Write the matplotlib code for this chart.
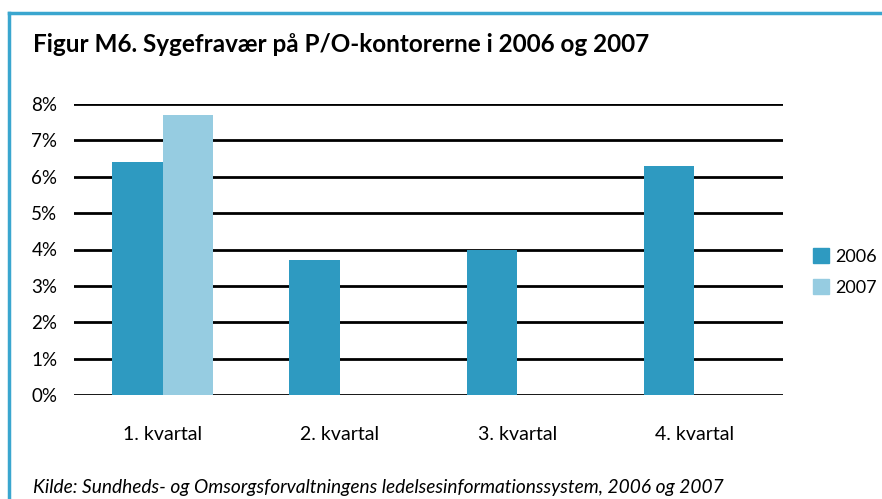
import matplotlib.pyplot as plt
import matplotlib.patches as mpatches
import numpy as np

plt.rcParams['font.family'] = ['Lato', 'DejaVu Sans']

categories = ["1. kvartal", "2. kvartal", "3. kvartal", "4. kvartal"]
series_names = ["2006", "2007"]
values_2006 = [6.4, 3.7, 4.0, 6.3]
values_2007 = [7.7, 0, 0, 0]
yticks = [0, 1, 2, 3, 4, 5, 6, 7, 8]
ytick_labels = ["0%", "1%", "2%", "3%", "4%", "5%", "6%", "7%", "8%"]

c2006 = "#2E9AC1"
c2007 = "#96CCE1"
border = "#3AA6CF"

W, H = 882, 499
fig = plt.figure(figsize=(W/100, H/100), dpi=100)

# frame lines
fig.add_artist(plt.Line2D([9/W, 9/W], [0, 1 - 13/H], color=border, lw=2.5))
fig.add_artist(plt.Line2D([9/W, 1], [1 - 13/H, 1 - 13/H], color=border, lw=2.5))

ax = fig.add_axes([74/W, 1 - 395/H, (783-74)/W, (395-104)/H])
x = np.arange(len(categories))
bw = 0.285
ax.bar(x - bw/2, values_2006, bw, color=c2006, zorder=3, label=series_names[0])
ax.bar(x + bw/2, values_2007, bw, color=c2007, zorder=3, label=series_names[1])
ax.set_xlim(-0.5, len(categories) - 0.5)
ax.set_ylim(0, 8)
ax.set_yticks(yticks)
ax.set_yticklabels(ytick_labels, fontsize=13.5)
for t in yticks:
    ax.axhline(t, color="black", lw=2, zorder=1)
ax.set_xticks(x)
ax.set_xticklabels(categories, fontsize=14)
ax.tick_params(length=0)
ax.tick_params(axis='y', pad=12)
ax.tick_params(axis='x', pad=22)
for s in ax.spines.values():
    s.set_visible(False)

handles = [mpatches.Patch(color=c2006, label=series_names[0]),
           mpatches.Patch(color=c2007, label=series_names[1])]
fig.legend(handles=handles, loc='center left', bbox_to_anchor=(797/W, 1 - 272/H),
           frameon=False, fontsize=13, handlelength=0.85, handleheight=0.85,
           handletextpad=0.35, labelspacing=0.8)

fig.text(33/W, 1 - 45/H, "Figur M6. Sygefravær på P/O-kontorerne i 2006 og 2007",
         fontsize=17.5, fontweight='bold', va='center', ha='left')
fig.text(33/W, 1 - 487/H, "Kilde: Sundheds- og Omsorgsforvaltningens ledelsesinformationssystem, 2006 og 2007",
         fontsize=13.8, style='italic', va='center', ha='left')

fig.savefig("out.png", dpi=100)
